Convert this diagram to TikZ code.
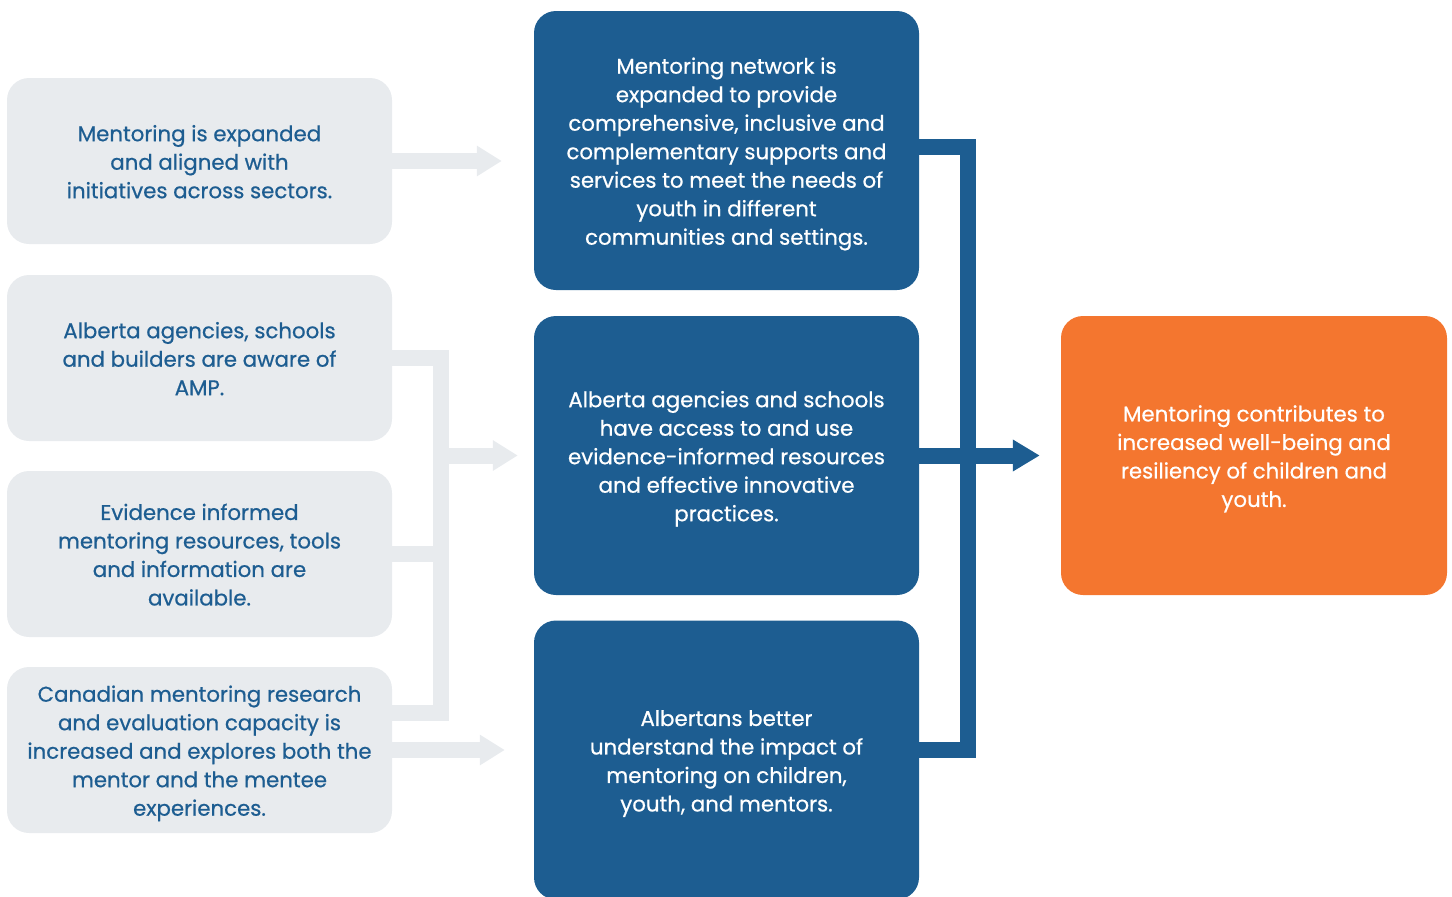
\documentclass[tikz,border=0pt]{standalone}
\usepackage{fontspec}
\setmainfont{Poppins}[FakeBold=0.6]
\usetikzlibrary{arrows.meta}
\definecolor{boxgrey}{HTML}{E8EBEE}
\definecolor{navy}{HTML}{1D5D91}
\definecolor{flame}{HTML}{F4762F}
% centred lines on a fixed 28.5pt pitch, nudged slightly down
\newcommand\boxtext[1]{\raisebox{-3pt}[\height][\depth]{\begin{tabular}{@{}c@{}}#1\end{tabular}}}
\begin{document}
\begin{tikzpicture}[x=1pt,y=-1pt,
  txt/.style={font=\fontsize{21.3}{28.5}\selectfont},
  greybox/.style={txt,fill=boxgrey,text=navy,rounded corners=22pt,
    minimum width=385pt,minimum height=166pt,inner sep=0pt},
  bluebox/.style={txt,fill=navy,text=white,rounded corners=22pt,
    minimum width=385pt,minimum height=279pt,inner sep=0pt},
  orangebox/.style={bluebox,fill=flame},
  gline/.style={draw=boxgrey,line width=16pt,line join=miter},
  garrow/.style={gline,-{Triangle[length=25pt,width=29pt]}},
  bline/.style={draw=navy,line width=16pt,line join=miter},
  barrow/.style={bline,-{Triangle[length=27pt,width=30pt]}}]
\useasboundingbox (0,0) rectangle (1452,897);
\begin{scope}
\clip (0,0) rectangle (1452,897);

% outputs on the left
\node[greybox] (g1) at (199.5,161) {\boxtext{Mentoring is expanded\\and aligned with\\initiatives across sectors.}};
\node[greybox] (g2) at (199.5,358) {\boxtext{Alberta agencies, schools\\and builders are aware of\\AMP.}};
\node[greybox] (g3) at (199.5,554) {\boxtext{Evidence informed\\mentoring resources, tools\\and information are\\available.}};
\node[greybox] (g4) at (199.5,750) {\boxtext{Canadian mentoring research\\and evaluation capacity is\\increased and explores both the\\mentor and the mentee\\experiences.}};

% intermediate outcomes
\node[bluebox] (b1) at (726.5,150.5) {\boxtext{Mentoring network is\\expanded to provide\\comprehensive, inclusive and\\complementary supports and\\services to meet the needs of\\youth in different\\communities and settings.}};
\node[bluebox] (b2) at (726.5,455.5) {\boxtext{Alberta agencies and schools\\have access to and use\\evidence-informed resources\\and effective innovative\\practices.}};
\node[bluebox] (b3) at (726.5,760) {\boxtext{Albertans better\\understand the impact of\\mentoring on children,\\youth, and mentors.}};

% long-term outcome
\node[orangebox,minimum width=386pt] (o) at (1254,455.5) {\boxtext{Mentoring contributes to\\increased well-being and\\resiliency of children and\\youth.}};

% grey connectors
\draw[garrow] (g1.east) -- ([xshift=-32pt]b1.west |- g1.east);
\draw[gline] (g2.east) -- ++(49,0) |- ([yshift=37pt]g4.east);
\draw[gline] (g3.east) -- ++(49,0);
\draw[garrow] ([xshift=49pt]g2.east |- b2.west) -- ([xshift=-16pt]b2.west);
\draw[garrow] (g4.east) -- ([xshift=-29pt]b3.west |- g4.east);

% blue connectors
\draw[bline] ([yshift=3.5pt]b1.east) -- ++(49,0) |- ([yshift=10pt]b3.east);
\draw[barrow] (b2.east) -- ([xshift=-21pt]o.west);
\end{scope}
\end{tikzpicture}
\end{document}
